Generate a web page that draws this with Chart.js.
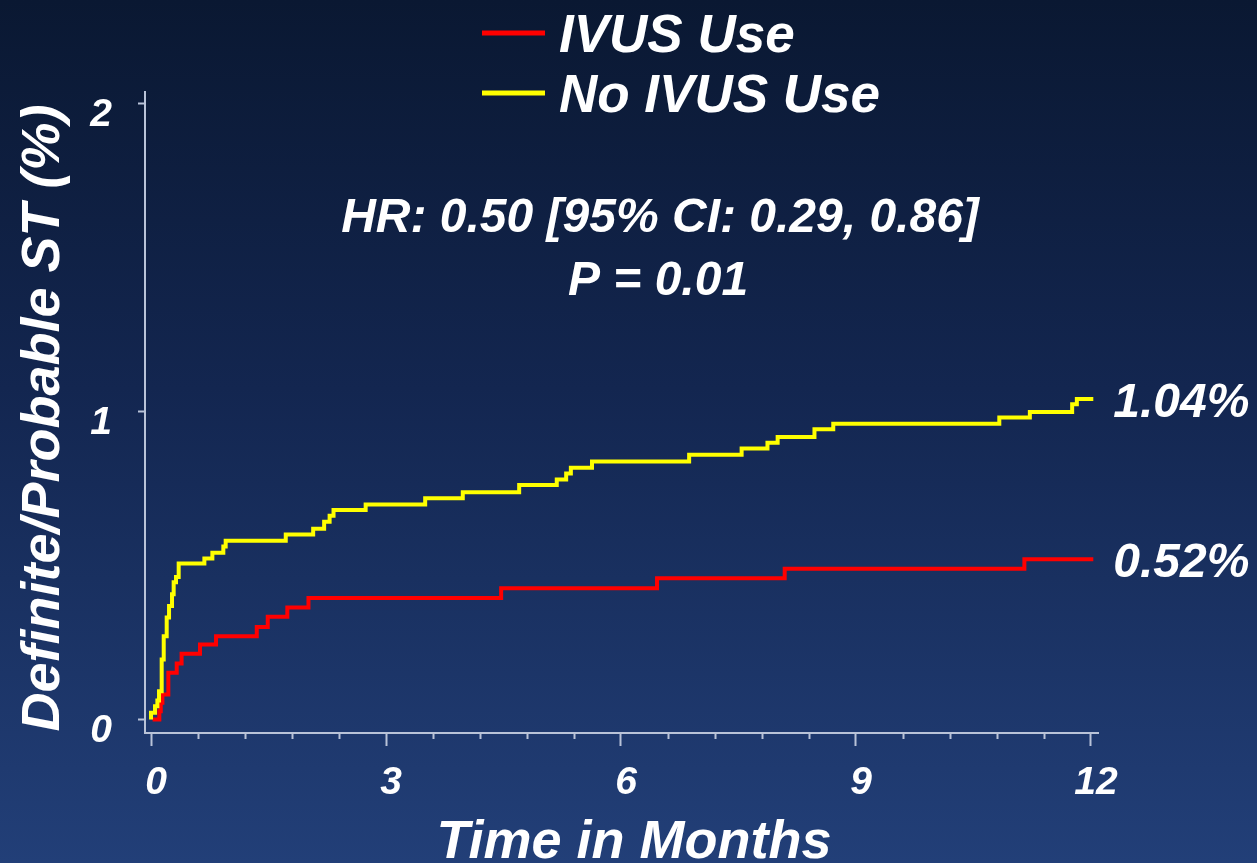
<!DOCTYPE html>
<html>
<head>
<meta charset="utf-8">
<title>Definite/Probable ST by IVUS Use</title>
<script src="https://cdn.jsdelivr.net/npm/chart.js@4.4.1/dist/chart.umd.min.js"></script>
<style>
  html, body { margin: 0; padding: 0; width: 1257px; height: 863px; overflow: hidden; }
  body { background: linear-gradient(to bottom, #0a1832 0%, #132650 45%, #223f78 100%); }
  canvas { display: block; }
</style>
</head>
<body>
<canvas id="chart" width="1257" height="863"></canvas>
<script>
// Kaplan-Meier style cumulative event curves (months, % with definite/probable ST)
const ivusMonths = [0.02, 0.106, 0.124, 0.145, 0.221, 0.328, 0.39, 0.625, 0.83, 1.35, 1.49, 1.74, 2.01, 4.47, 6.46, 8.09, 11.15, 12.03];
const ivusRisk   = [0, 0.027, 0.054, 0.081, 0.152, 0.182, 0.213, 0.243, 0.27, 0.30, 0.333, 0.363, 0.394, 0.426, 0.458, 0.489, 0.52, 0.52];

const noIvusMonths = [0, 0, 0.051, 0.081, 0.102, 0.136, 0.162, 0.200, 0.230, 0.268, 0.289, 0.319, 0.353, 0.681, 0.783, 0.923, 0.953, 1.72, 2.07, 2.21, 2.28, 2.33, 2.74, 3.50, 3.98, 4.70, 5.18, 5.30, 5.36, 5.63, 6.87, 7.54, 7.87, 8.00, 8.47, 8.71, 10.83, 11.22, 11.76, 11.82, 12.03];
const noIvusRisk   = [0, 0.022, 0.043, 0.062, 0.092, 0.195, 0.27, 0.331, 0.368, 0.406, 0.445, 0.462, 0.506, 0.522, 0.541, 0.561, 0.58, 0.60, 0.619, 0.642, 0.661, 0.68, 0.698, 0.718, 0.737, 0.761, 0.779, 0.798, 0.817, 0.837, 0.859, 0.879, 0.898, 0.917, 0.942, 0.96, 0.98, 0.998, 1.023, 1.04, 1.04];

const seriesNames = ['IVUS Use', 'No IVUS Use'];
const seriesColors = ['#ff0000', '#ffff00'];

const xTickValues = [0, 3, 6, 9, 12];
const xMinorTickValues = [0.6, 1.2, 1.8, 2.4, 3.6, 4.2, 4.8, 5.4, 6.6, 7.2, 7.8, 8.4, 9.6, 10.2, 10.8, 11.4];
const yTickValues = [0, 1, 2];

const xAxisTitle = 'Time in Months';
const yAxisTitle = 'Definite/Probable ST (%)';
const statLines = ['HR: 0.50 [95% CI: 0.29, 0.86]', 'P = 0.01'];

const FAMILY = '"Liberation Sans", Arial, Helvetica, sans-serif';
const AXIS_COLOR = '#b9c3d8';

function toPoints(xs, ys) {
  return xs.map((x, i) => ({ x: x, y: ys[i] }));
}
function fontStr(size) {
  return 'italic bold ' + size + 'px ' + FAMILY;
}

// Axis titles, legend, statistics, end-of-curve labels and minor ticks
const decorations = {
  id: 'decorations',
  afterDraw(chart) {
    const { ctx, chartArea } = chart;
    const xs = chart.scales.x, ys = chart.scales.y;
    ctx.save();

    // minor ticks on the time axis
    ctx.strokeStyle = AXIS_COLOR;
    ctx.lineWidth = 2;
    xMinorTickValues.forEach(v => {
      const px = Math.round(xs.getPixelForValue(v)) + 0.5;
      ctx.beginPath();
      ctx.moveTo(px, chartArea.bottom);
      ctx.lineTo(px, chartArea.bottom + 6);
      ctx.stroke();
    });

    // axis titles
    ctx.fillStyle = '#ffffff';
    ctx.textAlign = 'center';
    ctx.textBaseline = 'alphabetic';
    ctx.font = fontStr(54);
    ctx.fillText(xAxisTitle, 634, 858);
    ctx.save();
    ctx.translate(59, 418);
    ctx.rotate(-Math.PI / 2);
    ctx.fillText(yAxisTitle, 0, 0);
    ctx.restore();

    // legend
    ctx.font = fontStr(53);
    ctx.textAlign = 'left';
    ctx.textBaseline = 'alphabetic';
    const legendRows = [33, 93];
    chart.data.datasets.forEach((ds, i) => {
      const rowY = legendRows[i];
      ctx.strokeStyle = ds.borderColor;
      ctx.lineWidth = 5;
      ctx.beginPath();
      ctx.moveTo(482, rowY);
      ctx.lineTo(545, rowY);
      ctx.stroke();
      ctx.fillStyle = '#ffffff';
      ctx.fillText(ds.label, 559, rowY + 19);
    });

    // hazard ratio and p value
    ctx.font = fontStr(48);
    ctx.textAlign = 'center';
    ctx.fillStyle = '#ffffff';
    ctx.fillText(statLines[0], 660, 232);
    ctx.fillText(statLines[1], 658, 295);

    // final cumulative rates next to each curve
    ctx.textAlign = 'left';
    ctx.textBaseline = 'middle';
    chart.data.datasets.forEach(ds => {
      const last = ds.data[ds.data.length - 1];
      const px = xs.getPixelForValue(last.x) + 20;
      const py = ys.getPixelForValue(last.y) + 5;
      ctx.fillText(last.y.toFixed(2) + '%', px, py);
    });

    ctx.restore();
  }
};

new Chart(document.getElementById('chart'), {
  type: 'line',
  data: {
    datasets: [
      {
        label: seriesNames[0],
        data: toPoints(ivusMonths, ivusRisk),
        borderColor: seriesColors[0],
        borderWidth: 4,
        stepped: 'before',
        pointRadius: 0,
        fill: false,
        order: 1
      },
      {
        label: seriesNames[1],
        data: toPoints(noIvusMonths, noIvusRisk),
        borderColor: seriesColors[1],
        borderWidth: 4,
        stepped: 'before',
        pointRadius: 0,
        fill: false,
        order: 0
      }
    ]
  },
  options: {
    responsive: false,
    animation: false,
    events: [],
    layout: { padding: { top: 92, right: 159, left: 0, bottom: 0 } },
    plugins: {
      legend: { display: false },
      tooltip: { enabled: false }
    },
    scales: {
      x: {
        type: 'linear',
        min: -0.077,
        max: 12.09,
        afterBuildTicks: s => { s.ticks = xTickValues.map(v => ({ value: v })); },
        afterFit: s => { s.height = 130; },
        border: { color: AXIS_COLOR, width: 2 },
        grid: { drawOnChartArea: false, drawTicks: true, tickLength: 13, tickWidth: 2, tickColor: AXIS_COLOR },
        ticks: {
          color: '#ffffff',
          font: { family: FAMILY, size: 39, weight: 'bold', style: 'italic' },
          padding: 14,
          labelOffset: 5,
          maxRotation: 0,
          autoSkip: false,
          callback: v => String(v)
        },
        title: { display: false }
      },
      y: {
        type: 'linear',
        min: -0.0438,
        max: 2.036,
        afterBuildTicks: s => { s.ticks = yTickValues.map(v => ({ value: v })); },
        afterFit: s => { s.width = 145; },
        border: { color: AXIS_COLOR, width: 2 },
        grid: { drawOnChartArea: false, drawTicks: true, tickLength: 7, tickWidth: 2, tickColor: AXIS_COLOR },
        ticks: {
          color: '#ffffff',
          font: { family: FAMILY, size: 39, weight: 'bold', style: 'italic' },
          padding: 26,
          labelOffset: 12,
          callback: v => String(v)
        },
        title: { display: false }
      }
    }
  },
  plugins: [decorations]
});
</script>
</body>
</html>
